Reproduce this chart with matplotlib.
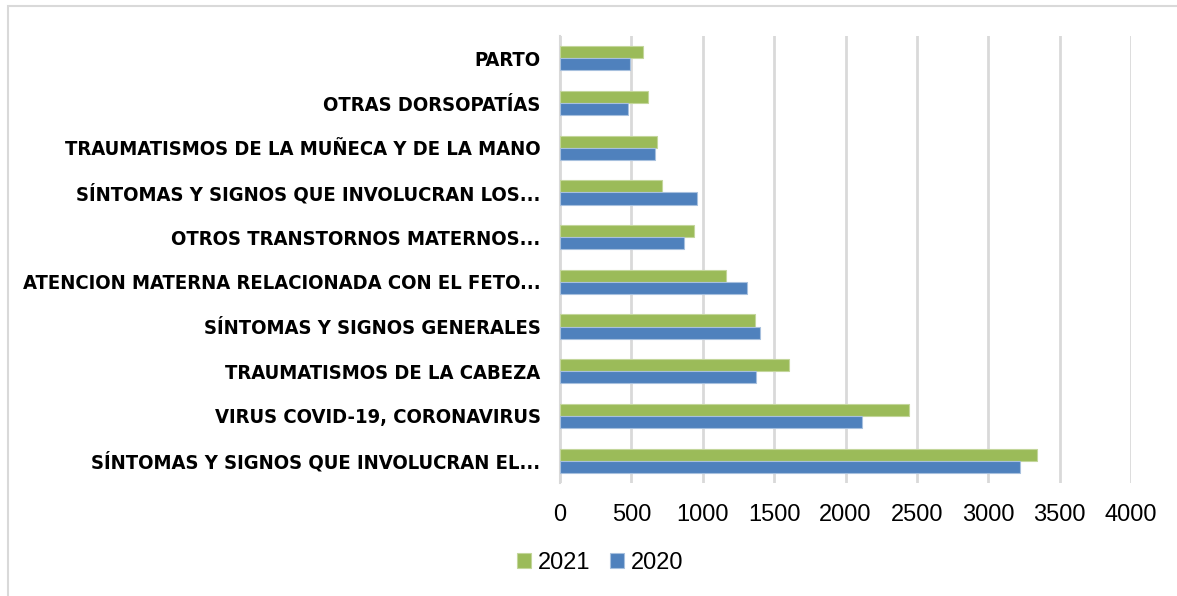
import matplotlib.pyplot as plt
import numpy as np
from matplotlib.patches import Rectangle

# categories from top to bottom
categorias = [
    "PARTO",
    "OTRAS DORSOPATÍAS",
    "TRAUMATISMOS DE LA MUÑECA Y DE LA MANO",
    "SÍNTOMAS Y SIGNOS QUE INVOLUCRAN LOS...",
    "OTROS TRANSTORNOS MATERNOS...",
    "ATENCION MATERNA RELACIONADA CON EL FETO...",
    "SÍNTOMAS Y SIGNOS GENERALES",
    "TRAUMATISMOS DE LA CABEZA",
    "VIRUS COVID-19, CORONAVIRUS",
    "SÍNTOMAS Y SIGNOS QUE INVOLUCRAN EL...",
]
v2021 = [578, 615, 681, 715, 940, 1165, 1368, 1604, 2442, 3342]
v2020 = [490, 476, 664, 960, 869, 1308, 1399, 1376, 2117, 3225]

verde = "#9BBB59"
azul = "#4F81BD"

fig = plt.figure(figsize=(11.77, 5.96), dpi=100)
ax = fig.add_axes([560 / 1177, 1 - 483 / 596, (1131 - 560) / 1177, (483 - 36) / 596])

y = np.arange(len(categorias))
h = 0.27
ax.barh(y - h / 2, v2021, height=h, color=verde, edgecolor="#c3d69b", linewidth=0.8, label="2021", zorder=3)
ax.barh(y + h / 2, v2020, height=h, color=azul, edgecolor="#a7c0de", linewidth=0.8, label="2020", zorder=3)

ax.set_xlim(0, 4000)
ax.set_ylim(len(categorias) - 0.5, -0.5)
ax.set_xticks(np.arange(0, 4001, 500))
ax.set_yticks(y)
ax.set_yticklabels(categorias, fontfamily="DejaVu Sans", fontstretch="condensed",
                   fontweight="bold", fontsize=14.5)
ax.tick_params(axis="x", labelsize=17, length=0, pad=15)
ax.tick_params(axis="y", length=0, pad=14)
for lab in ax.get_xticklabels():
    lab.set_fontfamily("Liberation Sans")

ax.grid(axis="x", color="#d9d9d9", linewidth=2, zorder=0)
for s in ["top", "right", "bottom"]:
    ax.spines[s].set_visible(False)
ax.spines["left"].set_color("#d9d9d9")
ax.spines["left"].set_linewidth(1.5)

leg = fig.legend(loc="center", bbox_to_anchor=(0.51, 1 - 563 / 596), ncol=2, frameon=False,
                 prop={"family": "Liberation Sans", "size": 17}, handlelength=0.6, handleheight=0.6,
                 handletextpad=0.3, columnspacing=0.8)

# outer chart frame
fig.patches.append(Rectangle((8 / 1177, -0.05), 1.1, 1 - 6 / 596 + 0.05, transform=fig.transFigure,
                             fill=False, edgecolor="#d9d9d9", linewidth=1.5))

fig.savefig("out.png", dpi=100)
